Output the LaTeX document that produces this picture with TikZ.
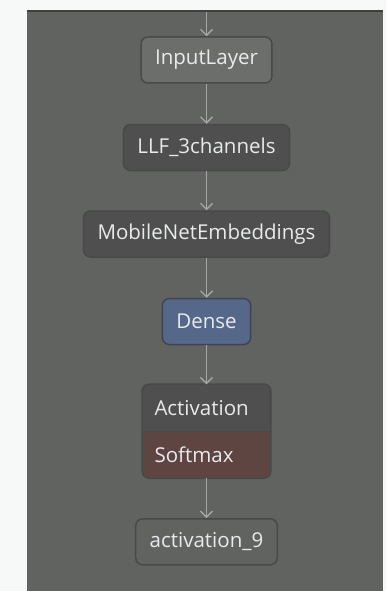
\documentclass[tikz,border=0pt]{standalone}
\usepackage{fontspec}
\setmainfont{Open Sans}
\usetikzlibrary{arrows.meta,positioning,backgrounds,fit}
\definecolor{pagewhite}{RGB}{247,248,248}
\definecolor{panelgray}{RGB}{97,99,97}
\definecolor{topline}{RGB}{62,63,62}
\definecolor{layeredge}{RGB}{72,73,72}
\definecolor{layertext}{RGB}{232,234,236}
\definecolor{inputfill}{RGB}{108,110,108}
\definecolor{darkfill}{RGB}{78,79,78}
\definecolor{densefill}{RGB}{86,104,138}
\definecolor{denseedge}{RGB}{62,68,82}
\definecolor{softfill}{RGB}{94,69,66}
\definecolor{arrowgray}{RGB}{165,166,165}
\tikzset{
    %Define standard arrow tip
    >={Straight Barb[length=6pt,width=12pt]},
    %Define style for layer boxes
    layer/.style={
           rectangle,
           rounded corners=7pt,
           draw=layeredge, line width=1.5pt,
           minimum height=46pt,
           inner xsep=14pt,
           font=\fontsize{20.5}{24}\selectfont,
           text=layertext,
           text centered},
    inputlayer/.style={layer, fill=inputfill},
    darklayer/.style={layer, fill=darkfill},
    denselayer/.style={layer, fill=densefill, draw=denseedge},
    outlayer/.style={layer, fill=panelgray},
    %Define style for the two part box
    partlabel/.style={
           rectangle,
           inner xsep=12pt,
           text width=104pt,
           align=left,
           font=\fontsize{20.5}{24}\selectfont,
           text=layertext},
    % Define arrow style
    pil/.style={
           ->,
           draw=arrowgray,
           line width=1.3pt}
}
\begin{document}
\begin{tikzpicture}[node distance=40pt]

 %background
\begin{scope}[on background layer]
\fill[pagewhite] (0,0) rectangle (386pt,-591pt);
\fill[panelgray] (27pt,-10pt) rectangle (383pt,-591pt);
\fill[topline] (27pt,-10pt) rectangle (383pt,-12pt);
\end{scope}

 %nodes
\coordinate (top) at (206.5pt,-12pt);
\node[inputlayer] (input) at (206.5pt,-60pt) {InputLayer};
\node[darklayer, below=of input] (llf) {LLF\_3channels};
\node[darklayer, below=39pt of llf] (mobile) {MobileNetEmbeddings};
\node[denselayer, below=of mobile] (dense) {Dense};
\node[partlabel, minimum height=47pt, below=39pt of dense] (act) {Activation};
\node[partlabel, minimum height=46pt, below=0pt of act] (soft) {Softmax};
\node[outlayer, below=of soft] (out) {activation\_9};

 %two part box
\begin{scope}[on background layer]
\node[fit=(act)(soft), inner sep=0pt, rounded corners=7pt, fill=darkfill] (grp) {};
\begin{scope}
\clip (soft.north west) rectangle (grp.south east);
\fill[softfill, rounded corners=7pt] (grp.north west) rectangle (grp.south east);
\end{scope}
\draw[layeredge, line width=1.5pt, rounded corners=7pt] (grp.north west) rectangle (grp.south east);
\draw[layeredge, line width=1.2pt] (soft.north west) -- (soft.north east);
\end{scope}

 %edges
\draw[pil] (top) -- (input);
\draw[pil] (input) -- (llf);
\draw[pil] (llf) -- (mobile);
\draw[pil] (mobile) -- (dense);
\draw[pil] (dense) -- (act);
\draw[pil] (soft) -- (out);

\end{tikzpicture}
\end{document}
